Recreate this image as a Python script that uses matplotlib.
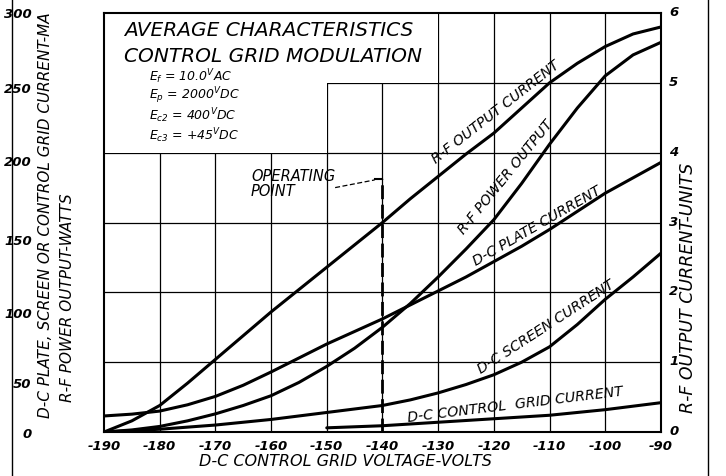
import numpy as np
import matplotlib.pyplot as plt
from matplotlib.patches import Polygon
from matplotlib.lines import Line2D
from matplotlib.transforms import ScaledTranslation

# values
volts = [-190, -185, -180, -175, -170, -165, -160, -155, -150, -145, -140,
         -135, -130, -125, -120, -115, -110, -105, -100, -95, -90]
rf_out_units = [0, 0.16, 0.38, 0.70, 1.04, 1.38, 1.72, 2.04, 2.36, 2.68, 3.0,
                3.34, 3.66, 3.98, 4.28, 4.64, 5.0, 5.28, 5.52, 5.7, 5.8]
rf_power = [0, 1.5, 4, 8, 13, 19, 26, 35.5, 47, 60, 75,
            92, 111, 131, 152, 178, 206, 232, 255, 270, 279]
plate_ma = [11.5, 12.8, 15, 19.5, 25.5, 33.5, 43, 53, 63, 72, 81,
            91, 101, 111, 122, 133, 145, 158, 171, 182, 193]
screen_ma = [0, 1, 2, 3.5, 5, 7, 9, 11.5, 14, 16.5, 19,
             23, 28, 34, 41, 50, 61, 77, 95, 111, 128]
grid_volts = [-150, -140, -130, -120, -110, -100, -90]
grid_ma = [3, 4.5, 7, 9.5, 12, 16, 21]

op_point = -140
params = [r'$E_f$ = 10.0$^V$AC', r'$E_p$ = 2000$^V$DC',
          r'$E_{c2}$ = 400$^V$DC', r'$E_{c3}$ = +45$^V$DC']
left_ticks = [0, 50, 100, 150, 200, 250, 300]
left_tick_shift = [0, -20, -20, -16, -7, -4, 1]  # hand lettered labels sit low
right_ticks = [0, 1, 2, 3, 4, 5, 6]
x_ticks = list(range(-190, -89, 10))

plt.rcParams['font.family'] = 'DejaVu Sans'
plt.rcParams['font.style'] = 'italic'
plt.rcParams['mathtext.fontset'] = 'dejavusans'

fig = plt.figure(figsize=(7.26, 4.77), dpi=100)
ax = fig.add_axes([0.1433, 0.0922, 0.767, 0.8784])
ax.set_xlim(-190, -90)
ax.set_ylim(0, 300)

# grid
for x in x_ticks[1:-1]:
    ax.axvline(x, color='black', lw=0.9, zorder=1)
for y in left_ticks[1:-1]:
    ax.axhline(y, color='black', lw=0.9, zorder=1)
# blank area behind the title
blank = Polygon([(-190, 300), (-130, 300), (-130, 250), (-150, 250),
                 (-150, 200), (-190, 200)], closed=True,
                facecolor='white', edgecolor='none', zorder=1.5)
ax.add_patch(blank)

kw = dict(color='black', lw=2.2, zorder=3, solid_capstyle='round',
          solid_joinstyle='round')
ax.plot(volts, [v * 50 for v in rf_out_units], **kw)
ax.plot(volts, rf_power, **kw)
ax.plot(volts, plate_ma, **kw)
ax.plot(volts, screen_ma, **kw)
ax.plot(grid_volts, grid_ma, **kw)

# operating point
ax.plot([op_point, op_point], [0, 181], color='black', lw=2, ls=(0, (5, 2)), zorder=3)
ax.plot([-141.4, op_point], [181, 181], color='black', lw=1.5, zorder=3)
ax.plot([-148.5, -141.4], [175, 180.5], color='black', lw=0.9, ls=(0, (4, 2)), zorder=3)
ax.text(-163.6, 178.5, 'OPERATING\nPOINT', fontsize=10.5, va='center', ha='left',
        linespacing=1.0)

# curve labels
lab = dict(fontsize=10.2, ha='center', va='center', zorder=4)
ax.text(-119.6, 230, 'R-F OUTPUT CURRENT', rotation=38, **lab)
ax.text(-117.8, 183, 'R-F POWER OUTPUT', rotation=51, **lab)
ax.text(-112.3, 148, 'D-C PLATE CURRENT', rotation=30, **lab)
ax.text(-110.6, 76, 'D-C SCREEN CURRENT', rotation=33, **lab)
ax.text(-116.2, 20, 'D-C CONTROL  GRID CURRENT', rotation=7, **lab)

# title block
ax.text(-186.4, 288.5, 'AVERAGE CHARACTERISTICS', fontsize=14.5, va='center', ha='left')
ax.text(-186.4, 269.5, 'CONTROL GRID MODULATION', fontsize=14.5, va='center', ha='left')
for i, p in enumerate(params):
    ax.text(-182, 255.4 - i * 14.2, p, fontsize=9, va='center', ha='left')

# axes styling
for s in ax.spines.values():
    s.set_linewidth(1.5)
ax.set_xticks(x_ticks)
ax.set_xticklabels([str(v) for v in x_ticks], fontsize=9.5, fontweight='bold')
ax.tick_params(axis='x', length=0, pad=5)
ax.set_yticks(left_ticks)
ax.set_yticklabels([str(v) for v in left_ticks], fontsize=9.5, fontweight='bold')
ax.tick_params(axis='y', length=0, pad=52)
for t, dy in zip(ax.get_yticklabels(), left_tick_shift):
    t.set_transform(t.get_transform() + ScaledTranslation(0, dy / 100, fig.dpi_scale_trans))
ax.set_xlabel('D-C CONTROL GRID VOLTAGE-VOLTS', fontsize=11.5)
ax.xaxis.set_label_coords(0.433, -0.068)
ax.xaxis.label.set_va('center')

ax2 = ax.twinx()
ax2.set_ylim(0, 6)
ax2.set_yticks(right_ticks)
ax2.set_yticklabels([str(v) for v in right_ticks], fontsize=9.5, fontweight='bold')
ax2.tick_params(axis='y', length=0, pad=6)
for t in ax2.get_yticklabels():
    t.set_transform(t.get_transform() + ScaledTranslation(0, 3 / 100, fig.dpi_scale_trans))
ax2.set_ylabel('R-F OUTPUT CURRENT-UNITS', fontsize=12.5)
ax2.yaxis.set_label_coords(1.048, 0.346)
ax2.yaxis.label.set_va('center')
for s in ax2.spines.values():
    s.set_visible(False)

# left axis title (two lines)
fig.text(45 / 726, 1 - 418 / 477, 'D-C PLATE, SCREEN OR CONTROL GRID CURRENT-MA',
         rotation=90, rotation_mode='anchor', ha='left', va='center', fontsize=11)
fig.text(67 / 726, 1 - 402 / 477, 'R-F POWER OUTPUT-WATTS',
         rotation=90, rotation_mode='anchor', ha='left', va='center', fontsize=11)

# page borders from the scan
fig.add_artist(Line2D([12 / 726, 12 / 726], [0, 1], color='black', lw=1))
fig.add_artist(Line2D([708 / 726, 708 / 726], [0, 1], color='black', lw=1))

fig.savefig('out.png', dpi=100)
